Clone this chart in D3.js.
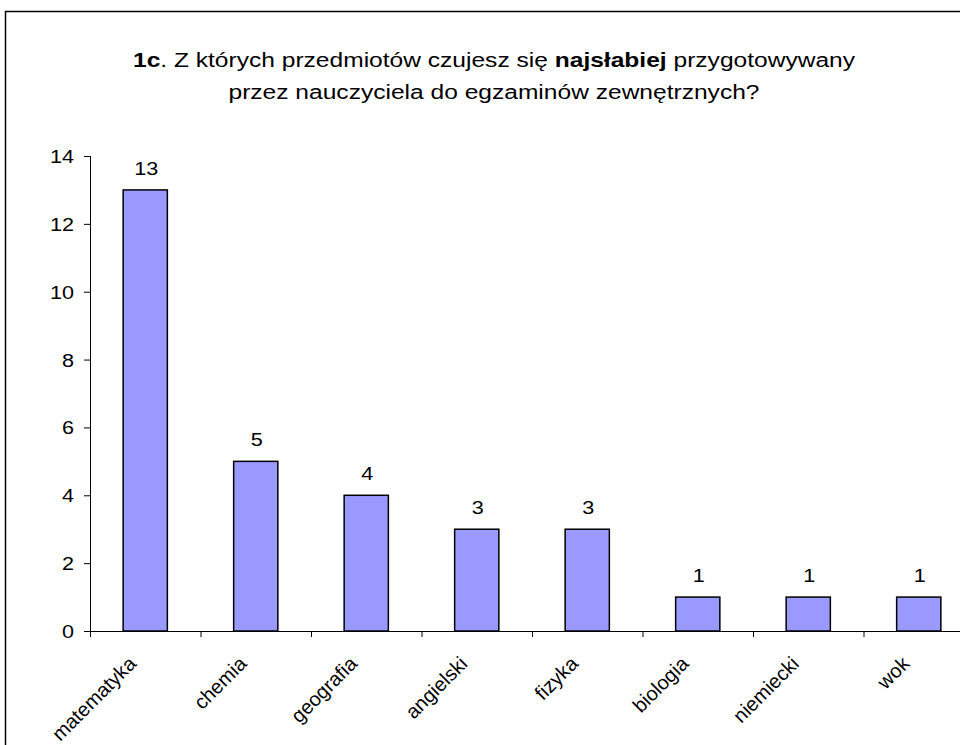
<!DOCTYPE html>
<html><head><meta charset="utf-8">
<script src="https://cdn.jsdelivr.net/npm/d3@7"></script>
<style>body{margin:0;background:#fff}svg{display:block}</style>
</head><body>
<svg id="c" width="960" height="745"></svg>
<script>
const categories = ["matematyka","chemia","geografia","angielski","fizyka","biologia","niemiecki","wok"];
const values = [13,5,4,3,3,1,1,1];
const yTicks = [0,2,4,6,8,10,12,14];

const svg = d3.select("#c");
const font = "'Liberation Sans', Arial, sans-serif";
const sx = 1.17;
svg.append("rect").attr("x",5.5).attr("y",11.5).attr("width",1000).attr("height",1000)
  .attr("fill","#fff").attr("stroke","#000").attr("stroke-width",1.5);

const x0 = 90, x1 = 974, yTop = 156, yBot = 631;
const x = d3.scaleBand().domain(categories).range([x0,x1]).paddingInner(0.6).paddingOuter(0.3);
const y = d3.scaleLinear().domain([0,14]).range([yBot,yTop]);

// title
const tg = svg.append("g").attr("transform",`translate(494,0) scale(${sx},1)`);
const t = tg.append("text").attr("text-anchor","middle").attr("font-family",font).attr("font-size",21).attr("fill","#000");
const l1 = t.append("tspan").attr("x",0).attr("y",67);
l1.append("tspan").attr("font-weight","bold").text("1c");
l1.append("tspan").text(". Z których przedmiotów czujesz się ");
l1.append("tspan").attr("font-weight","bold").text("najsłabiej");
l1.append("tspan").text(" przygotowywany");
t.append("tspan").attr("x",0).attr("y",99).text("przez nauczyciela do egzaminów zewnętrznych?");

// bars
svg.selectAll("rect.bar").data(values).join("rect").attr("class","bar")
  .attr("x",(d,i)=>x(categories[i])).attr("width",x.bandwidth())
  .attr("y",d=>y(d)).attr("height",d=>y(0)-y(d))
  .attr("fill","#9999FF").attr("stroke","#000").attr("stroke-width",1.5);

svg.selectAll("text.val").data(values).join("text").attr("class","val")
  .attr("transform",(d,i)=>`translate(${x(categories[i])+x.bandwidth()/2+1},${y(d)-15}) scale(${sx},1)`)
  .attr("text-anchor","middle").attr("font-family",font).attr("font-size",18.5).text(d=>d);

// y axis
const ya = svg.append("g").attr("transform",`translate(${x0},0)`)
  .call(d3.axisLeft(y).tickValues(yTicks).tickSize(6).tickPadding(6).tickFormat(d3.format("d")));
ya.selectAll("line,path").attr("stroke","#000");
ya.select("path").attr("d",`M0.5,${yTop}V${yBot}`);
ya.selectAll(".tick text").attr("x",null).attr("dy",null)
  .attr("transform",`translate(-16,6.5) scale(${sx},1)`)
  .attr("font-family",font).attr("font-size",18.5).attr("fill","#000");

// x axis
const xa = svg.append("g").attr("transform",`translate(0,${yBot})`);
xa.append("line").attr("x1",x0).attr("x2",x1).attr("y1",0.5).attr("y2",0.5).attr("stroke","#000");
xa.selectAll("line.tk").data(d3.range(categories.length+1)).join("line").attr("class","tk")
  .attr("x1",i=>x0+0.5+i*x.step()).attr("x2",i=>x0+0.5+i*x.step())
  .attr("y1",0).attr("y2",6).attr("stroke","#000");
xa.selectAll("text").data(categories).join("text")
  .attr("transform",d=>`translate(${x(d)+x.bandwidth()/2-8},${34}) rotate(-45)`)
  .attr("text-anchor","end").attr("font-family",font).attr("font-size",20).text(d=>d);
</script>
</body></html>
